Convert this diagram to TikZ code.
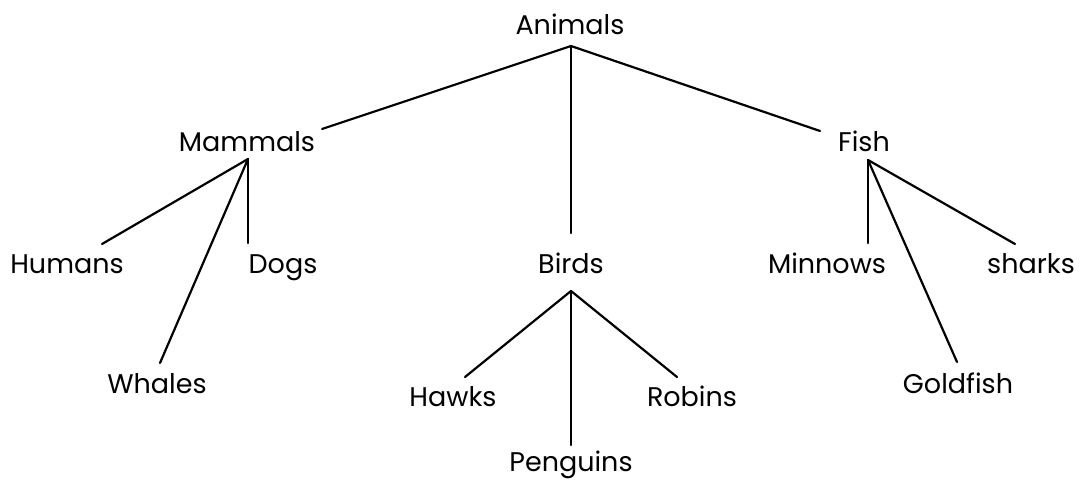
\documentclass[tikz,border=0pt]{standalone}
\usepackage{fontspec}
\setmainfont{Poppins}
\begin{document}
\begin{tikzpicture}[x=1pt,y=-1pt,
  lbl/.style={inner sep=0pt, anchor=base, font=\fontsize{27}{31}\selectfont},
  edge/.style={line width=2.2pt, line cap=round}]
\useasboundingbox (0,0) rectangle (1092,481);
% labels (positioned by baseline)
\node[lbl] (animals) at (570,35) {Animals};
\node[lbl] (mammals) at (247,152) {Mammals};
\node[lbl] (fish) at (864,152) {Fish};
\node[lbl] (birds) at (571,273) {Birds};
\node[lbl] (humans) at (67,273) {Humans};
\node[lbl] (dogs) at (283,273) {Dogs};
\node[lbl] (whales) at (157,393) {Whales};
\node[lbl] (minnows) at (827,273) {Minnows};
\node[lbl] (sharks) at (1031,273) {sharks};
\node[lbl] (goldfish) at (958,393) {Goldfish};
\node[lbl] (hawks) at (453,406) {Hawks};
\node[lbl] (robins) at (692,406) {Robins};
\node[lbl] (penguins) at (571,471) {Penguins};
% connector end points
\coordinate (animalsB) at (571,46);
\coordinate (mammalsR) at (322,129);
\coordinate (fishL) at (820,131);
\coordinate (birdsT) at (571,233);
\coordinate (mammalsB) at (248,159);
\coordinate (humansT) at (102,244);
\coordinate (dogsT) at (248,243);
\coordinate (whalesT) at (160,363);
\coordinate (fishB) at (868,160);
\coordinate (minnowsT) at (868,243);
\coordinate (sharksT) at (1015,244);
\coordinate (goldfishT) at (957,362);
\coordinate (birdsB) at (571,291);
\coordinate (hawksT) at (465,377);
\coordinate (robinsT) at (677,377);
\coordinate (penguinsT) at (571,445);
% connectors
\draw[edge] (animalsB) -- (mammalsR);
\draw[edge] (animalsB) -- (fishL);
\draw[edge] (animalsB) -- (birdsT);
\draw[edge] (mammalsB) -- (humansT);
\draw[edge] (mammalsB) -- (dogsT);
\draw[edge] (mammalsB) -- (whalesT);
\draw[edge] (fishB) -- (minnowsT);
\draw[edge] (fishB) -- (sharksT);
\draw[edge] (fishB) -- (goldfishT);
\draw[edge] (birdsB) -- (hawksT);
\draw[edge] (birdsB) -- (robinsT);
\draw[edge] (birdsB) -- (penguinsT);
\end{tikzpicture}
\end{document}
